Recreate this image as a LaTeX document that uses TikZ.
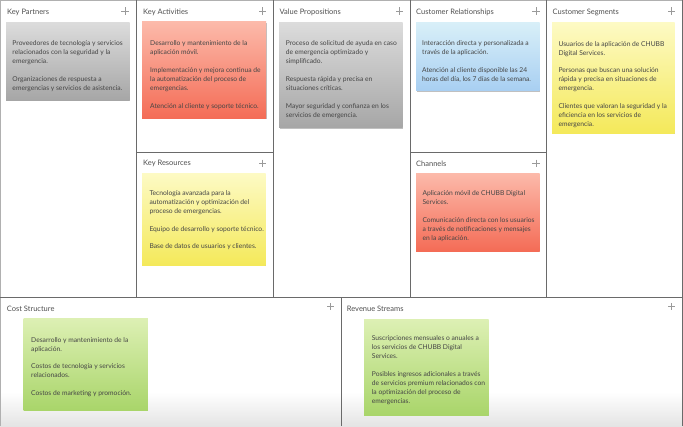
\documentclass[tikz,border=0pt]{standalone}
\usepackage{fontspec}
\setmainfont{Lato}
\usetikzlibrary{shadows}
\definecolor{gridc}{HTML}{6A6A6A}
\definecolor{outerc}{HTML}{B0B0B0}
\definecolor{titlec}{HTML}{505050}
\definecolor{bodyc}{HTML}{454545}
\definecolor{plusc}{HTML}{9A9A9A}
\definecolor{grayT}{HTML}{DCDCDC}
\definecolor{grayB}{HTML}{A6A6A6}
\definecolor{redT}{HTML}{FCBAAA}
\definecolor{redB}{HTML}{F46C56}
\definecolor{blueT}{HTML}{D8EFF8}
\definecolor{blueB}{HTML}{A8CFF2}
\definecolor{yelT}{HTML}{FDFAC4}
\definecolor{yelB}{HTML}{F4E95A}
\definecolor{grnT}{HTML}{DDF0B4}
\definecolor{grnB}{HTML}{A9D56A}
\definecolor{bgB}{HTML}{E4E4E4}
\newcommand\pgap{\\[8.7pt]}
\tikzset{
  gridline/.style={draw=gridc, line width=0.8pt},
  outerline/.style={draw=outerc, line width=0.6pt},
  title/.style={anchor=west, inner sep=0pt, font=\fontsize{7.5}{9}\selectfont, text=titlec},
  note/.style={anchor=north west, inner sep=0pt, draw=none,
    drop shadow={shadow xshift=0.4pt, shadow yshift=-1.2pt, opacity=0.35, fill=black!70}},
  graynote/.style={note, top color=grayT, bottom color=grayB},
  rednote/.style={note, top color=redT, bottom color=redB},
  bluenote/.style={note, top color=blueT, bottom color=blueB},
  yelnote/.style={note, top color=yelT, bottom color=yelB},
  grnnote/.style={note, top color=grnT, bottom color=grnB},
  body/.style={anchor=north west, inner sep=0pt, align=left, font=\fontsize{6.7}{9}\selectfont, text=bodyc},
  plussign/.pic={\draw[plusc, line width=0.6pt] (-3.6,0) -- (3.6,0) (0,-3.6) -- (0,3.6);}
}
\begin{document}
\begin{tikzpicture}[x=1pt,y=-1pt]
\useasboundingbox (0,0) rectangle (683,426);
\fill[white] (0,0) rectangle (683,426);
\shade[top color=white, bottom color=bgB] (0,392) rectangle (683,426);

% grid
\draw[outerline] (0,0) -- (682,0);
\draw[outerline] (0,0) -- (0,426);
\draw[gridline] (682,0) -- (682,426);
\draw[gridline] (136,0) -- (136,297);
\draw[gridline] (273,0) -- (273,297);
\draw[gridline] (410,0) -- (410,297);
\draw[gridline] (546,0) -- (546,297);
\draw[gridline] (341,297) -- (341,426);
\draw[gridline] (136,152) -- (273,152);
\draw[gridline] (410,152) -- (546,152);
\draw[gridline] (0,297) -- (682,297);

% titles
\node[title] (tkp) at (7,12.3) {Key Partners};
\node[title] (tka) at (143,12.3) {Key Activities};
\node[title] (tvp) at (279.5,12.3) {Value Propositions};
\node[title] (tcr) at (416,12.3) {Customer Relationships};
\node[title] (tcs) at (552.5,12.3) {Customer Segments};
\node[title] (tkr) at (143,163.3) {Key Resources};
\node[title] (tch) at (416,163.3) {Channels};
\node[title] (tcost) at (6.7,309) {Cost Structure};
\node[title] (trev) at (346.7,309) {Revenue Streams};

% plus signs
\pic at (125,11) {plussign};
\pic at (262.7,11) {plussign};
\pic at (399.7,11) {plussign};
\pic at (536,11) {plussign};
\pic at (671.7,11) {plussign};
\pic at (262.7,163.3) {plussign};
\pic at (536,163.3) {plussign};
\pic at (330.7,306.7) {plussign};
\pic at (671.7,306.7) {plussign};

% notes
\node[graynote, minimum width=123.3pt, minimum height=78pt] (nkp) at (6,22) {};
\node[rednote, minimum width=124pt, minimum height=96.5pt] (nka) at (142,21.5) {};
\node[graynote, minimum width=123.3pt, minimum height=105.7pt] (nvp) at (279,22) {};
\node[bluenote, minimum width=123.3pt, minimum height=68.2pt] (ncr) at (416,22.5) {};
\node[yelnote, minimum width=122.3pt, minimum height=110.5pt] (ncs) at (552,22.5) {};
\node[yelnote, minimum width=123.3pt, minimum height=91.7pt] (nkr) at (142,173.3) {};
\node[rednote, minimum width=123.3pt, minimum height=77.7pt] (nch) at (416,173.3) {};
\node[grnnote, minimum width=124.2pt, minimum height=92pt] (ncost) at (23.5,318) {};
\node[grnnote, minimum width=124.3pt, minimum height=96pt] (nrev) at (364,319) {};

% texts
\node[body] (bkp) at (12.3,40.3) {Proveedores de tecnología y servicios\\ relacionados con la seguridad y la\\ emergencia.\pgap Organizaciones de respuesta a\\ emergencias y servicios de asistencia.};
\node[body] (bka) at (150,40.7) {Desarrollo y mantenimiento de la\\ aplicación móvil.\pgap Implementación y mejora continua de\\ la automatización del proceso de\\ emergencias.\pgap Atención al cliente y soporte técnico.};
\node[body] (bvp) at (285.7,40.7) {Proceso de solicitud de ayuda en caso\\ de emergencia optimizado y\\ simplificado.\pgap Respuesta rápida y precisa en\\ situaciones críticas.\pgap Mayor seguridad y confianza en los\\ servicios de emergencia.};
\node[body] (bcr) at (422,40.3) {Interacción directa y personalizada a\\ través de la aplicación.\pgap Atención al cliente disponible las 24\\ horas del día, los 7 días de la semana.};
\node[body] (bcs) at (558.3,41) {Usuarios de la aplicación de CHUBB\\ Digital Services.\pgap Personas que buscan una solución\\ rápida y precisa en situaciones de\\ emergencia.\pgap Clientes que valoran la seguridad y la\\ eficiencia en los servicios de\\ emergencia.};
\node[body] (bkr) at (149.3,190.3) {Tecnología avanzada para la\\ automatización y optimización del\\ proceso de emergencias.\pgap Equipo de desarrollo y soporte técnico.\pgap Base de datos de usuarios y clientes.};
\node[body] (bch) at (422.3,190.3) {Aplicación móvil de CHUBB Digital\\ Services.\pgap Comunicación directa con los usuarios\\ a través de notificaciones y mensajes\\ en la aplicación.};
\node[body] (bcost) at (31,337) {Desarrollo y mantenimiento de la\\ aplicación.\pgap Costos de tecnología y servicios\\ relacionados.\pgap Costos de marketing y promoción.};
\node[body] (brev) at (371.7,335.3) {Suscripciones mensuales o anuales a\\ los servicios de CHUBB Digital\\ Services.\pgap Posibles ingresos adicionales a través\\ de servicios premium relacionados con\\ la optimización del proceso de\\ emergencias.};
\end{tikzpicture}
\end{document}
